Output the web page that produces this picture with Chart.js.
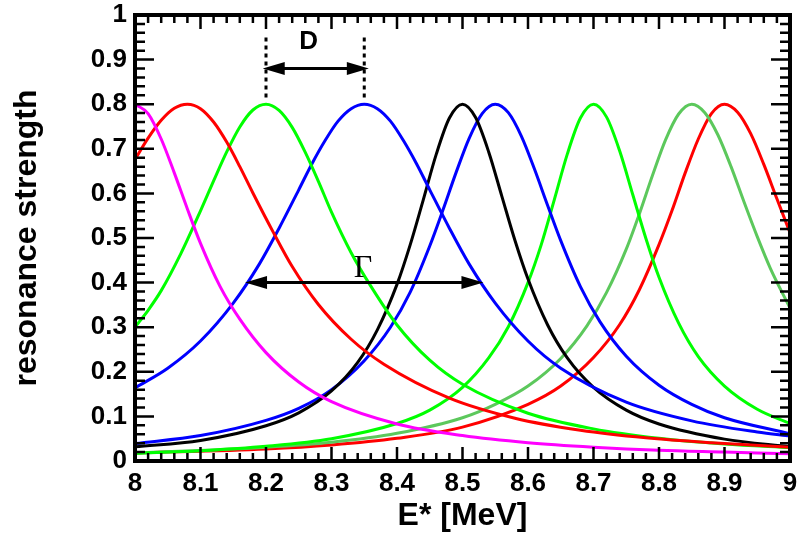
<!DOCTYPE html>
<html>
<head>
<meta charset="utf-8">
<script src="https://cdn.jsdelivr.net/npm/chart.js@4.4.0/dist/chart.umd.min.js"></script>
<style>
  html, body { margin: 0; padding: 0; background: #fff; }
  #wrap { width: 800px; height: 536px; }
</style>
</head>
<body>
<div id="wrap"><canvas id="chart" width="800" height="536"></canvas></div>
<script>
// resonance curves (energy in MeV, strength)
const magentaE = [8.0, 8.02, 8.04, 8.06, 8.08, 8.1, 8.13, 8.16, 8.2, 8.25, 8.3, 8.4, 8.5, 8.6, 8.7, 8.8, 8.9, 9.0];
const magentaS = [0.8, 0.779, 0.722, 0.646, 0.565, 0.488, 0.391, 0.318, 0.243, 0.177, 0.133, 0.083, 0.057, 0.041, 0.031, 0.024, 0.020, 0.016];

const red1E = [8.0, 8.02, 8.04, 8.06, 8.08, 8.1, 8.12, 8.14, 8.16, 8.18, 8.21, 8.24, 8.28, 8.33, 8.38, 8.48, 8.58, 8.68, 8.78, 8.88, 9.0];
const red1S = [0.676, 0.724, 0.764, 0.791, 0.8, 0.790, 0.760, 0.715, 0.660, 0.601, 0.516, 0.436, 0.351, 0.273, 0.217, 0.141, 0.096, 0.069, 0.052, 0.041, 0.031];

const green1E = [8.0, 8.02, 8.04, 8.07, 8.1, 8.12, 8.14, 8.16, 8.18, 8.2, 8.22, 8.24, 8.26, 8.28, 8.3, 8.33, 8.36, 8.4, 8.45, 8.5, 8.6, 8.7, 8.8, 8.9, 9.0];
const green1S = [0.300, 0.338, 0.382, 0.465, 0.561, 0.628, 0.693, 0.749, 0.787, 0.8, 0.786, 0.748, 0.692, 0.627, 0.558, 0.467, 0.392, 0.305, 0.226, 0.172, 0.107, 0.072, 0.051, 0.038, 0.030];

const blue1E = [8.0, 8.05, 8.1, 8.15, 8.19, 8.22, 8.25, 8.27, 8.29, 8.31, 8.33, 8.35, 8.37, 8.39, 8.41, 8.43, 8.45, 8.48, 8.51, 8.55, 8.6, 8.65, 8.75, 8.85, 8.95, 9.0];
const blue1S = [0.164, 0.208, 0.269, 0.354, 0.442, 0.522, 0.608, 0.666, 0.718, 0.762, 0.790, 0.8, 0.790, 0.762, 0.718, 0.666, 0.608, 0.522, 0.442, 0.354, 0.269, 0.208, 0.132, 0.090, 0.065, 0.056];

const blackE = [8.0, 8.1, 8.2, 8.25, 8.3, 8.34, 8.37, 8.4, 8.42, 8.44, 8.46, 8.48, 8.5, 8.52, 8.54, 8.56, 8.58, 8.6, 8.63, 8.66, 8.7, 8.75, 8.8, 8.9, 9.0];
const blackS = [0.032, 0.046, 0.079, 0.108, 0.157, 0.221, 0.294, 0.396, 0.484, 0.585, 0.688, 0.769, 0.8, 0.770, 0.693, 0.594, 0.495, 0.408, 0.305, 0.231, 0.165, 0.114, 0.083, 0.049, 0.032];

const blue2E = [8.0, 8.1, 8.2, 8.25, 8.3, 8.35, 8.39, 8.42, 8.45, 8.47, 8.49, 8.51, 8.53, 8.55, 8.57, 8.59, 8.61, 8.63, 8.65, 8.68, 8.71, 8.75, 8.8, 8.85, 8.9, 9.0];
const blue2S = [0.039, 0.057, 0.091, 0.118, 0.160, 0.225, 0.300, 0.378, 0.482, 0.562, 0.646, 0.723, 0.779, 0.8, 0.781, 0.728, 0.654, 0.573, 0.494, 0.391, 0.312, 0.235, 0.170, 0.127, 0.097, 0.061];

const green2E = [8.0, 8.1, 8.2, 8.3, 8.4, 8.45, 8.5, 8.54, 8.57, 8.6, 8.62, 8.64, 8.66, 8.68, 8.7, 8.72, 8.74, 8.76, 8.78, 8.8, 8.83, 8.86, 8.9, 8.95, 9.0];
const green2S = [0.017, 0.023, 0.033, 0.050, 0.084, 0.114, 0.165, 0.231, 0.301, 0.400, 0.484, 0.585, 0.688, 0.769, 0.8, 0.771, 0.695, 0.597, 0.499, 0.412, 0.309, 0.234, 0.168, 0.116, 0.084];

const lgreenE = [8.0, 8.2, 8.3, 8.4, 8.5, 8.55, 8.6, 8.65, 8.69, 8.72, 8.75, 8.77, 8.79, 8.81, 8.83, 8.85, 8.87, 8.89, 8.91, 8.93, 8.95, 8.97, 9.0];
const lgreenS = [0.018, 0.031, 0.042, 0.062, 0.097, 0.127, 0.168, 0.230, 0.303, 0.378, 0.475, 0.554, 0.640, 0.720, 0.778, 0.8, 0.781, 0.731, 0.660, 0.580, 0.503, 0.432, 0.343];

const red2E = [8.0, 8.2, 8.3, 8.4, 8.5, 8.6, 8.65, 8.7, 8.74, 8.77, 8.8, 8.82, 8.84, 8.86, 8.88, 8.9, 8.92, 8.94, 8.96, 8.98, 9.0];
const red2S = [0.018, 0.027, 0.036, 0.051, 0.076, 0.127, 0.168, 0.232, 0.306, 0.384, 0.485, 0.562, 0.646, 0.722, 0.779, 0.8, 0.782, 0.734, 0.665, 0.588, 0.512];

// annotations: spacing D between neighbours, width Gamma
const dLines = [8.2, 8.35];
const dArrow = { from: 8.195, to: 8.357, y: 0.88 };
const gArrow = { from: 8.168, to: 8.532, y: 0.4 };

const pts = (xs, ys) => xs.map((x, i) => ({ x: x, y: ys[i] }));

function curve(xs, ys, color) {
    return {
        data: pts(xs, ys),
        borderColor: color,
        borderWidth: 3,
        pointRadius: 0,
        fill: false,
        cubicInterpolationMode: 'monotone'
    };
}

function arrow(ctx, x1, x2, y) {
    const hl = 22, hw = 6.5;
    ctx.beginPath();
    ctx.moveTo(x1 + hl - 2, y);
    ctx.lineTo(x2 - hl + 2, y);
    ctx.stroke();
    ctx.beginPath();
    ctx.moveTo(x1, y); ctx.lineTo(x1 + hl, y - hw); ctx.lineTo(x1 + hl, y + hw); ctx.closePath();
    ctx.moveTo(x2, y); ctx.lineTo(x2 - hl, y - hw); ctx.lineTo(x2 - hl, y + hw); ctx.closePath();
    ctx.fill();
}

const frame = {
    id: 'frame',
    afterDatasetsDraw(chart) {
        const { ctx, chartArea: a, scales: { x, y } } = chart;
        ctx.save();
        ctx.strokeStyle = '#000';
        ctx.fillStyle = '#000';
        ctx.lineWidth = 2.5;
        ctx.beginPath();
        // inward ticks, minor every 0.02
        for (let i = 1; i < 50; i++) {
            const px = x.getPixelForValue(8 + i * 0.02);
            const len = i % 5 === 0 ? 14 : 8;
            ctx.moveTo(px, a.bottom); ctx.lineTo(px, a.bottom - len);
            ctx.moveTo(px, a.top); ctx.lineTo(px, a.top + len);
        }
        for (let i = 1; i < 50; i++) {
            const py = y.getPixelForValue(i * 0.02);
            const len = i % 5 === 0 ? 19 : 10;
            ctx.moveTo(a.left, py); ctx.lineTo(a.left + len, py);
            ctx.moveTo(a.right, py); ctx.lineTo(a.right - len, py);
        }
        ctx.stroke();
        ctx.lineWidth = 4;
        ctx.strokeRect(a.left, a.top, a.right - a.left, a.bottom - a.top);

        // D marker
        ctx.lineWidth = 3;
        ctx.setLineDash([4, 4]);
        dLines.forEach(v => {
            const px = x.getPixelForValue(v);
            ctx.beginPath();
            ctx.moveTo(px, y.getPixelForValue(0.815));
            ctx.lineTo(px, y.getPixelForValue(0.95));
            ctx.stroke();
        });
        ctx.setLineDash([]);
        arrow(ctx, x.getPixelForValue(dArrow.from), x.getPixelForValue(dArrow.to), y.getPixelForValue(dArrow.y));
        arrow(ctx, x.getPixelForValue(gArrow.from), x.getPixelForValue(gArrow.to), y.getPixelForValue(gArrow.y));

        ctx.textAlign = 'center';
        ctx.textBaseline = 'middle';
        ctx.font = 'bold 26px "Liberation Sans", Arial, sans-serif';
        ctx.fillText('D', x.getPixelForValue(8.265), y.getPixelForValue(0.94));
        ctx.textBaseline = 'alphabetic';
        ctx.font = '32px "Liberation Serif", "Times New Roman", serif';
        ctx.fillText('Γ', x.getPixelForValue(8.348), y.getPixelForValue(0.413));
        ctx.restore();
    }
};

const tickFont = { family: '"Liberation Sans", Arial, sans-serif', size: 26, weight: 'bold' };
const titleFont = { family: '"Liberation Sans", Arial, sans-serif', size: 32, weight: 'bold' };

new Chart(document.getElementById('chart'), {
    type: 'line',
    data: {
        datasets: [
            curve(magentaE, magentaS, '#ff00ff'),
            curve(red1E, red1S, '#ff0000'),
            curve(green1E, green1S, '#00ff00'),
            curve(blue1E, blue1S, '#0000ff'),
            curve(blackE, blackS, '#000000'),
            curve(blue2E, blue2S, '#0000ff'),
            curve(green2E, green2S, '#00ff00'),
            curve(lgreenE, lgreenS, '#5cc85c'),
            curve(red2E, red2S, '#ff0000')
        ]
    },
    options: {
        responsive: false,
        animation: false,
        devicePixelRatio: 1,
        layout: { padding: { left: 0, top: 15, right: 10, bottom: 0 } },
        plugins: { legend: { display: false }, tooltip: { enabled: false } },
        scales: {
            x: {
                type: 'linear',
                min: 8, max: 9,
                afterFit: s => { s.height = 75; s.paddingLeft = 0; s.paddingRight = 0; },
                grid: { display: false, drawTicks: false },
                border: { display: false },
                ticks: {
                    stepSize: 0.1, padding: 7, color: '#000', font: tickFont,
                    maxRotation: 0, autoSkip: false,
                    callback: v => String(+v.toFixed(1))
                },
                title: { display: true, text: 'E* [MeV]', color: '#000', font: titleFont, padding: { top: 0, bottom: 1 } }
            },
            y: {
                min: 0, max: 1,
                afterFit: s => { s.width = 135; s.paddingTop = 0; s.paddingBottom = 0; },
                grid: { display: false, drawTicks: false },
                border: { display: false },
                ticks: {
                    stepSize: 0.1, padding: 8, color: '#000', font: tickFont,
                    autoSkip: false,
                    callback: v => String(+v.toFixed(1))
                },
                title: { display: true, text: 'resonance strength', color: '#000', font: titleFont, padding: { top: 8, bottom: 0 } }
            }
        }
    },
    plugins: [frame]
});
</script>
</body>
</html>
